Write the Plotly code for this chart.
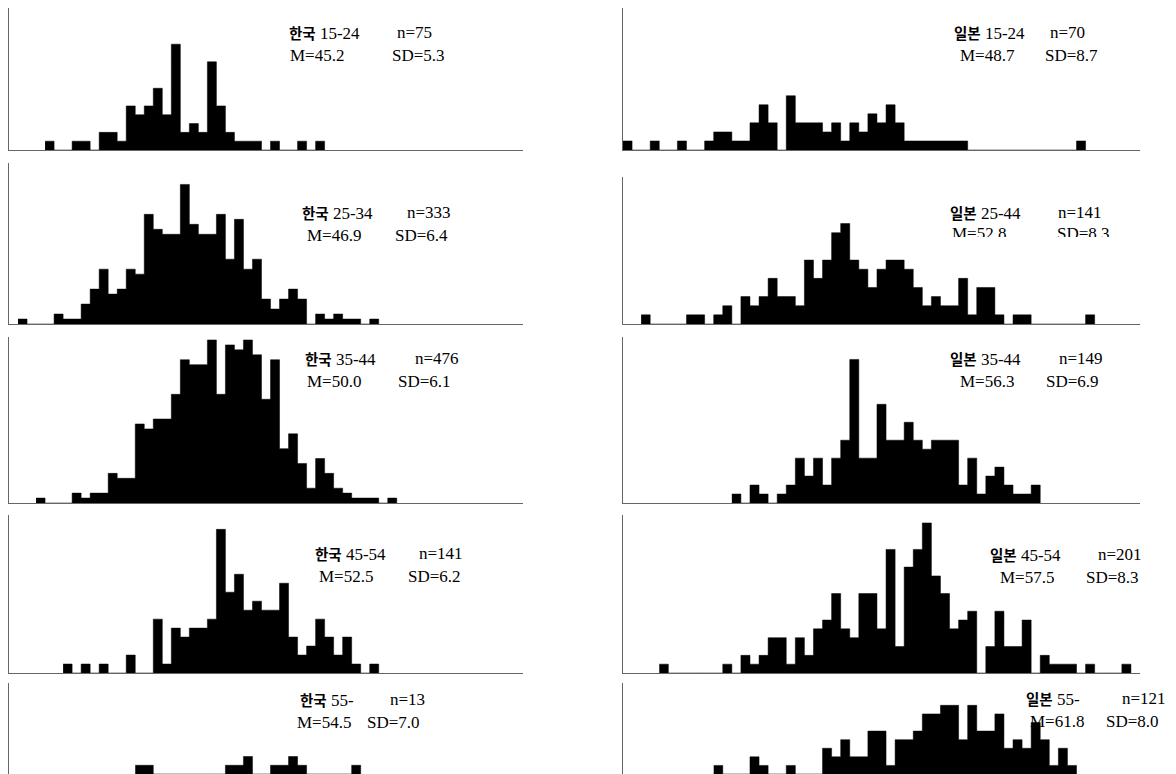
import plotly.graph_objects as go

# ---------------- data (score bins of width 1, counts) ----------------
KR_15_24_start = 31
KR_15_24 = [1,0,0,1,1,0,2,2,1,5,4,5,7,4,12,2,3,2,10,5,2,1,1,1,0,1,0,0,1,0,1]
KR_25_34_start = 28
KR_25_34 = [1,0,0,0,2,1,1,4,7,11,6,7,11,10,22,19,18,18,28,20,18,18,22,13,21,11,13,5,3,5,7,5,0,2,1,2,1,1,0,1]
KR_35_44_start = 30
KR_35_44 = [1,0,0,0,2,1,2,2,6,5,5,16,15,17,17,22,29,28,28,33,22,32,31,33,30,21,29,11,14,8,3,9,6,3,2,1,1,1,0,1]
KR_45_54_start = 33
KR_45_54 = [1,0,1,0,1,0,0,2,0,0,6,1,5,4,5,5,6,16,9,11,7,8,7,7,10,4,2,3,6,4,2,4,1,0,1]
KR_55_start = 41
KR_55 = [1,1,0,0,0,0,0,0,0,0,1,1,2,0,0,1,1,2,1,0,0,0,0,0,1]

JP_15_24_start = 27
JP_15_24 = [1,0,0,1,0,0,1,0,0,1,2,2,1,1,3,5,3,0,6,3,3,3,2,3,1,3,2,4,3,5,3,1,1,1,1,1,1,1,
            0,0,0,0,0,0,0,0,0,0,0,0,1]
JP_25_44_start = 29
JP_25_44 = [1,0,0,0,0,1,1,0,1,2,0,3,2,3,5,3,3,2,7,5,7,10,11,7,6,4,6,7,7,6,4,2,3,2,2,5,1,4,4,1,
            0,1,1,0,0,0,0,0,0,1]
JP_35_44_start = 39
JP_35_44 = [1,0,2,1,0,1,2,5,3,5,2,5,7,16,5,5,11,7,7,9,7,6,7,7,7,2,5,1,3,4,2,1,1,2]
JP_45_54_start = 31
JP_45_54 = [1,0,0,0,0,0,0,1,0,2,1,2,4,4,1,4,2,5,6,9,5,4,9,9,5,14,3,12,14,17,11,9,5,6,7,0,3,7,3,3,
            6,0,2,1,1,1,0,1,0,0,0,1]
JP_55_start = 37
JP_55 = [1,0,0,0,2,1,0,0,1,0,0,0,3,2,4,2,2,5,5,1,4,4,5,7,7,8,8,4,8,5,5,7,3,4,3,6,4,1,3,1]

countries = ["한국"] * 5 + ["일본"] * 5
ages = ["15-24", "25-34", "35-44", "45-54", "55-", "15-24", "25-44", "35-44", "45-54", "55-"]
ns = ["n=75", "n=333", "n=476", "n=141", "n=13", "n=70", "n=141", "n=149", "n=201", "n=121"]
means = ["M=45.2", "M=46.9", "M=50.0", "M=52.5", "M=54.5", "M=48.7", "M=52.8", "M=56.3", "M=57.5", "M=61.8"]
sds = ["SD=5.3", "SD=6.4", "SD=6.1", "SD=6.2", "SD=7.0", "SD=8.7", "SD=8.3", "SD=6.9", "SD=8.3", "SD=8.0"]

panels = [
    (KR_15_24_start, KR_15_24), (KR_25_34_start, KR_25_34), (KR_35_44_start, KR_35_44),
    (KR_45_54_start, KR_45_54), (KR_55_start, KR_55),
    (JP_15_24_start, JP_15_24), (JP_25_44_start, JP_25_44), (JP_35_44_start, JP_35_44),
    (JP_45_54_start, JP_45_54), (JP_55_start, JP_55),
]

# ---------------- layout geometry (pixels) ----------------
W, H = 1176, 774
X_RANGE = [26.5, 83.5]
col_px = [(9, 523), (623, 1140)]
panel_rows = [(8, 150), (163, 324), (337, 503), (515, 673), (683, 774),
              (8, 150), (177, 324), (337, 503), (515, 673), (683, 774)]
y_max = [16.1, 32.3, 33.6, 17.6, 10.4,
         15.7, 16.1, 18.5, 17.9, 10.6]

# label part positions (left x, centre y) in px:
# (country+age), (n), (M), (SD)
lab_pos = [
    ((287, 33), (395, 33), (288, 56), (390, 56)),
    ((300, 212), (405, 212), (305, 235), (393, 235)),
    ((303, 358), (413, 358), (305, 381), (396, 381)),
    ((313, 553), (417, 553), (317, 576), (406, 576)),
    ((298, 699), (388, 699), (295, 722), (365, 722)),
    ((952, 33), (1048, 33), (958, 56), (1043, 56)),
    ((948, 212), (1056, 212), (952, 235), (1057, 235)),
    ((948, 358), (1057, 358), (958, 381), (1044, 381)),
    ((988, 554), (1096, 554), (998, 577), (1084, 577)),
    ((1024, 698), (1120, 698), (1030, 723), (1106, 723)),
]
UNDER_BARS = {9}      # second line drawn beneath the bars (as in the reference)
CLIPPED = {6}         # second line partly hidden in the reference

SERIF = "Liberation Serif, Times New Roman, serif"
CJK = "Noto Sans CJK KR"
NB = "\u00a0"
FS = 17
CJK_FS = 14.5
LINE = "#666"


def data_x(col, px):
    x0, x1 = col_px[col]
    return X_RANGE[0] + (px - x0) / (x1 - x0) * (X_RANGE[1] - X_RANGE[0])


def data_y(i, py):
    t, b = panel_rows[i]
    return (b - py) / (b - t) * y_max[i]


fig = go.Figure()
layout = dict(width=W, height=H, margin=dict(l=0, r=0, t=0, b=0),
              paper_bgcolor="white", plot_bgcolor="white", showlegend=False,
              annotations=[], shapes=[])


def ann(text, px, py):
    layout["annotations"].append(dict(
        text=text, x=px / W, y=1 - py / H, xref="paper", yref="paper",
        xanchor="left", yanchor="middle", showarrow=False,
        font=dict(family=SERIF, size=FS, color="black")))


for i, (start, counts) in enumerate(panels):
    col = i // 5
    row = i % 5
    n = i + 1
    xa = "x" if n == 1 else f"x{n}"
    ya = "y" if n == 1 else f"y{n}"
    (pa, pn, pm, ps) = lab_pos[i]

    special = (i in UNDER_BARS) or (i in CLIPPED)
    if special:
        # second text line as a text trace in the panel (drawn before the bars)
        fig.add_trace(go.Scatter(
            x=[data_x(col, pm[0]), data_x(col, ps[0])],
            y=[data_y(i, pm[1]), data_y(i, ps[1])],
            mode="text", text=[means[i], sds[i]], textposition="middle right",
            textfont=dict(family=SERIF, size=FS, color="black"),
            cliponaxis=False, xaxis=xa, yaxis=ya, hoverinfo="skip"))

    # histogram silhouette: bin edges with step ('hv') outline, filled to zero
    edges = [start - 0.5 + k for k in range(len(counts) + 1)]
    ys = list(counts) + [0]
    fig.add_trace(go.Scatter(x=edges, y=ys, mode="lines", line_shape="hv",
                             line=dict(color="black", width=0.5),
                             fill="tozeroy", fillcolor="black",
                             xaxis=xa, yaxis=ya, hoverinfo="skip"))

    x0, x1 = col_px[col]
    t, b = panel_rows[i]
    last = (row == 4)
    layout[f"xaxis{n}" if n > 1 else "xaxis"] = dict(
        domain=[x0 / W, x1 / W], range=X_RANGE, anchor=ya,
        showticklabels=False, ticks="", showgrid=False, zeroline=False,
        showline=not last, linecolor=LINE, linewidth=1, fixedrange=True)
    layout[f"yaxis{n}" if n > 1 else "yaxis"] = dict(
        domain=[1 - b / H, 1 - t / H], range=[0, y_max[i]], anchor=xa,
        showticklabels=False, ticks="", showgrid=False, zeroline=False,
        showline=True, linecolor=LINE, linewidth=1, fixedrange=True)

    ann(f"<b><span style='font-family:{CJK};font-size:{CJK_FS}px'>{countries[i]}</span></b>"
        f"{NB}{ages[i]}", *pa)
    ann(ns[i], *pn)
    if not special:
        ann(means[i], *pm)
        ann(sds[i], *ps)

    if i in CLIPPED:
        # white band hiding the lower part of the second line
        yc = pm[1]
        layout["shapes"].append(dict(
            type="rect", xref="paper", yref="paper", layer="above",
            x0=(pm[0] - 4) / W, x1=(ps[0] + 60) / W,
            y0=1 - (yc + 14) / H, y1=1 - (yc + 2) / H,
            fillcolor="white", line=dict(width=0)))

fig.update_layout(**layout)
fig.write_html("out.html", config={"displayModeBar": False},
               post_script="document.body.style.margin='0';document.body.style.overflow='hidden';")
